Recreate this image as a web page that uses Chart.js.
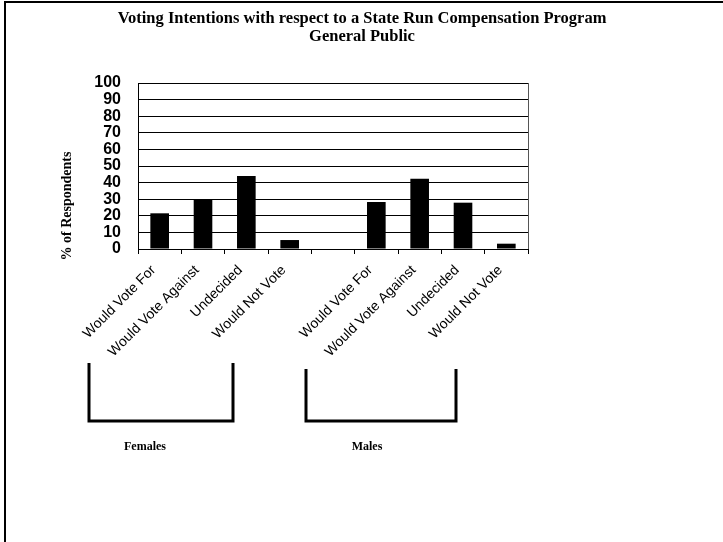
<!DOCTYPE html>
<html>
<head>
<meta charset="utf-8">
<script src="https://cdn.jsdelivr.net/npm/chart.js@4"></script>
<style>
  html, body { margin: 0; padding: 0; background: #fff; }
  #wrap { width: 723px; height: 542px; }
</style>
</head>
<body>
<div id="wrap"><canvas id="myChart" width="723" height="542"></canvas></div>
<script>
// data
const categories = [
    'Would Vote For', 'Would Vote Against', 'Undecided', 'Would Not Vote',
    '',
    'Would Vote For', 'Would Vote Against', 'Undecided', 'Would Not Vote'
];
const females = [21.5, 30, 44, 5.4];
const males = [28.3, 42.3, 27.9, 3.2];
const yTicks = [0, 10, 20, 30, 40, 50, 60, 70, 80, 90, 100];

const titleLines = ['Voting Intentions with respect to a State Run Compensation Program', 'General Public'];
const yTitle = '% of Respondents';
const groupNames = ['Females', 'Males'];

// females, a gap, then males
const values = females.concat([null], males);

// frame, titles, brackets under the labels
const decor = {
    id: 'decor',
    afterDraw(chart) {
        const ctx = chart.ctx;
        const area = chart.chartArea;
        ctx.save();
        ctx.strokeStyle = '#000';
        ctx.fillStyle = '#000';

        // outer frame (top + left only)
        ctx.lineWidth = 2;
        ctx.beginPath();
        ctx.moveTo(5, 542);
        ctx.lineTo(5, 2);
        ctx.lineTo(723, 2);
        ctx.stroke();

        // right border of plot
        ctx.lineWidth = 1;
        ctx.strokeStyle = '#555';
        ctx.beginPath();
        ctx.moveTo(Math.round(area.right) + 0.5, area.top);
        ctx.lineTo(Math.round(area.right) + 0.5, area.bottom);
        ctx.stroke();
        ctx.strokeStyle = '#000';

        // title
        ctx.font = 'bold 16.5px "Liberation Serif", "Times New Roman", serif';
        ctx.textAlign = 'center';
        ctx.textBaseline = 'middle';
        ctx.fillText(titleLines[0], 362, 19);
        ctx.fillText(titleLines[1], 362, 37);

        // y axis title
        ctx.save();
        ctx.translate(67, 206);
        ctx.rotate(-Math.PI / 2);
        ctx.font = 'bold 14px "Liberation Serif", "Times New Roman", serif';
        ctx.fillText(yTitle, 0, 0);
        ctx.restore();

        // brackets
        ctx.lineWidth = 3;
        ctx.beginPath();
        ctx.moveTo(89, 363);
        ctx.lineTo(89, 421);
        ctx.lineTo(233, 421);
        ctx.lineTo(233, 363);
        ctx.stroke();
        ctx.beginPath();
        ctx.moveTo(306, 369);
        ctx.lineTo(306, 421);
        ctx.lineTo(456, 421);
        ctx.lineTo(456, 369);
        ctx.stroke();

        ctx.font = 'bold 12px "Liberation Serif", "Times New Roman", serif';
        ctx.fillText(groupNames[0], 145, 447);
        ctx.fillText(groupNames[1], 367, 447);
        ctx.restore();
    }
};

const config = {
    type: 'bar',
    data: {
        labels: categories,
        datasets: [{
            data: values,
            backgroundColor: '#000',
            borderWidth: 0,
            barPercentage: 0.43,
            categoryPercentage: 1
        }]
    },
    options: {
        responsive: false,
        animation: false,
        events: [],
        layout: {
            padding: { top: 83, left: 0, right: 195, bottom: 0 }
        },
        plugins: {
            legend: { display: false },
            title: { display: false },
            tooltip: { enabled: false }
        },
        scales: {
            x: {
                afterFit: function(scale) { scale.height = 293; },
                border: { color: '#000', width: 1 },
                grid: {
                    offset: true,
                    drawOnChartArea: false,
                    drawTicks: true,
                    tickLength: 5,
                    color: '#000'
                },
                ticks: {
                    autoSkip: false,
                    minRotation: 45,
                    maxRotation: 45,
                    color: '#000',
                    padding: 8,
                    labelOffset: -6,
                    font: { family: '"Liberation Sans", Arial, sans-serif', size: 14 }
                }
            },
            y: {
                min: 0,
                max: 100,
                afterFit: function(scale) { scale.width = 138; },
                afterBuildTicks: function(scale) {
                    scale.ticks = yTicks.map(v => ({ value: v }));
                },
                border: { color: '#000', width: 1 },
                grid: {
                    color: '#000',
                    drawTicks: false
                },
                ticks: {
                    autoSkip: false,
                    color: '#000',
                    padding: 17,
                    font: { family: '"Liberation Sans", Arial, sans-serif', size: 16, weight: 'bold' }
                }
            }
        }
    },
    plugins: [decor]
};

const myChart = new Chart(document.getElementById('myChart'), config);
</script>
</body>
</html>
